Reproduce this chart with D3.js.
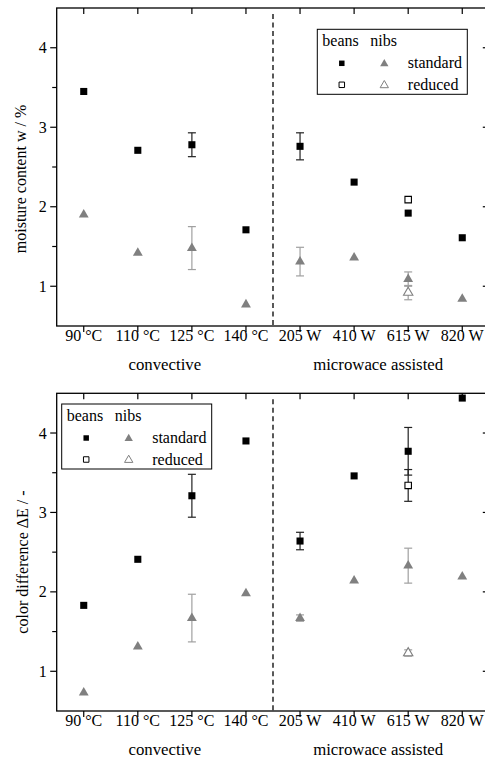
<!DOCTYPE html>
<html>
<head>
<meta charset="utf-8">
<script src="https://cdn.jsdelivr.net/npm/d3@7"></script>
<style>
  body { margin: 0; background: #fff; }
  svg text { font-family: "Liberation Serif", "Times New Roman", serif; font-size: 16px; fill: #000; }
  svg text.group { font-size: 16.8px; }
</style>
</head>
<body>
<div id="chart"></div>
<script>
//////////////////  data  /////////////////////////

const categories = ["90 °C", "110 °C", "125 °C", "140 °C", "205 W", "410 W", "615 W", "820 W"]
const groupLabels = ["convective", "microwace assisted"]
const yTicks = [1, 1.5, 2, 2.5, 3, 3.5, 4]

// moisture content w / %
const moistureBeansStd    = [3.45, 2.71, 2.78, 1.71, 2.76, 2.31, 1.92, 1.61]
const moistureBeansStdErr = [0, 0, 0.15, 0, 0.17, 0, 0, 0]
const moistureNibsStd     = [1.90, 1.42, 1.48, 0.77, 1.31, 1.36, 1.09, 0.84]
const moistureNibsStdErr  = [0, 0, 0.27, 0, 0.18, 0, 0.09, 0]
const moistureBeansRed    = [{ cat: "615 W", v: 2.09, err: 0 }]
const moistureNibsRed     = [{ cat: "615 W", v: 0.92, err: 0.09 }]

// color difference dE / -
const colorBeansStd    = [1.83, 2.41, 3.21, 3.90, 2.64, 3.46, 3.77, 4.44]
const colorBeansStdErr = [0, 0, 0.27, 0, 0.11, 0, 0.30, 0]
const colorNibsStd     = [0.73, 1.31, 1.67, 1.98, 1.67, 2.14, 2.33, 2.19]
const colorNibsStdErr  = [0, 0, 0.30, 0, 0.04, 0, 0.22, 0]
const colorBeansRed    = [{ cat: "615 W", v: 3.34, err: 0.20 }]
const colorNibsRed     = [{ cat: "615 W", v: 1.23, err: 0.04 }]

//////////////////  setup  /////////////////////////

const W = 485, H = 769
const left = 56.7, right = 489.3
const beansColor = "#000", nibsColor = "#808080"
const beansErrColor = "#222", nibsErrColor = "#a0a0a0"

const svg = d3.select("#chart").append("svg")
  .attr("width", W).attr("height", H)

const x = d3.scalePoint().domain(categories).range([left, right]).padding(0.5)

const zip = (vals, errs) => categories.map((c, i) => ({ cat: c, v: vals[i], err: errs[i] }))

function drawPanel(spec) {
  const y = d3.scaleLinear().domain([0.5, 4.5]).range([spec.bottom, spec.top])
  const g = svg.append("g")

  // frame
  g.append("rect")
    .attr("x", left).attr("y", spec.top)
    .attr("width", right - left).attr("height", spec.bottom - spec.top)
    .attr("fill", "none").attr("stroke", "#000").attr("stroke-width", 1.3)

  // left axis, outward ticks (minor ones shorter)
  g.selectAll(".ytick").data(yTicks).join("line")
    .attr("x1", d => left - (Number.isInteger(d) ? 6.5 : 4.5)).attr("x2", left)
    .attr("y1", d => y(d)).attr("y2", d => y(d))
    .attr("stroke", "#000").attr("stroke-width", 1.2)
  g.selectAll(".ylab").data(yTicks.filter(Number.isInteger)).join("text")
    .attr("x", left - 10).attr("y", d => y(d) + 5.5)
    .attr("text-anchor", "end")
    .text(d => d)

  // right axis, inward ticks
  g.selectAll(".rtick").data(yTicks.filter(Number.isInteger)).join("line")
    .attr("x1", right - 6.5).attr("x2", right)
    .attr("y1", d => y(d)).attr("y2", d => y(d))
    .attr("stroke", "#000").attr("stroke-width", 1.2)

  // top ticks inward, bottom ticks outward
  g.selectAll(".ttick").data(categories).join("line")
    .attr("x1", d => x(d)).attr("x2", d => x(d))
    .attr("y1", spec.top).attr("y2", spec.top + 6)
    .attr("stroke", "#000").attr("stroke-width", 1.2)
  g.selectAll(".btick").data(categories).join("line")
    .attr("x1", d => x(d)).attr("x2", d => x(d))
    .attr("y1", spec.bottom).attr("y2", spec.bottom + 6)
    .attr("stroke", "#000").attr("stroke-width", 1.2)
  g.selectAll(".xlab").data(categories).join("text")
    .attr("x", d => x(d)).attr("y", spec.bottom + 15)
    .attr("text-anchor", "middle")
    .text(d => d)

  // group labels
  g.append("text").attr("class", "group")
    .attr("x", (x(categories[0]) + x(categories[3])) / 2).attr("y", spec.bottom + 44)
    .attr("text-anchor", "middle").text(groupLabels[0])
  g.append("text").attr("class", "group")
    .attr("x", (x(categories[4]) + x(categories[7])) / 2 - 3).attr("y", spec.bottom + 44)
    .attr("text-anchor", "middle").text(groupLabels[1])

  // y title
  g.append("text")
    .attr("transform", "translate(" + spec.labelX + "," + spec.labelY + ") rotate(-90)")
    .attr("text-anchor", "middle")
    .text(spec.yTitle)

  // dashed divider
  const xd = (x(categories[3]) + x(categories[4])) / 2
  g.append("line")
    .attr("x1", xd).attr("x2", xd)
    .attr("y1", spec.top + 6).attr("y2", spec.bottom)
    .attr("stroke", "#000").attr("stroke-width", 1.3)
    .attr("stroke-dasharray", "5,3.5")

  // series: error bars first, then markers
  spec.series.forEach(s => {
    const pts = s.data.filter(d => d.err > 0)
    const eb = g.append("g").attr("stroke", s.errColor).attr("stroke-width", 1.2)
    eb.selectAll(".v").data(pts).join("line")
      .attr("x1", d => x(d.cat)).attr("x2", d => x(d.cat))
      .attr("y1", d => y(d.v - d.err)).attr("y2", d => y(d.v + d.err))
    eb.selectAll(".c1").data(pts).join("line")
      .attr("x1", d => x(d.cat) - 4).attr("x2", d => x(d.cat) + 4)
      .attr("y1", d => y(d.v + d.err)).attr("y2", d => y(d.v + d.err))
    eb.selectAll(".c2").data(pts).join("line")
      .attr("x1", d => x(d.cat) - 4).attr("x2", d => x(d.cat) + 4)
      .attr("y1", d => y(d.v - d.err)).attr("y2", d => y(d.v - d.err))

    g.append("g").selectAll("path").data(s.data).join("path")
      .attr("d", d3.symbol().type(s.shape).size(s.size))
      .attr("transform", d => "translate(" + x(d.cat) + "," + y(d.v) + ")")
      .attr("fill", s.open ? "#fff" : s.color)
      .attr("stroke", s.color)
      .attr("stroke-width", s.open ? 1.1 : 0)
  })

  drawLegend(g, spec.legendX, spec.legendY)
}

function drawLegend(g, lx, ly) {
  const lg = g.append("g").attr("transform", "translate(" + lx + "," + ly + ")")
  lg.append("rect")
    .attr("width", 150).attr("height", 65)
    .attr("fill", "#fff").attr("stroke", "#000").attr("stroke-width", 1)
  lg.append("text").attr("x", 5).attr("y", 17).text("beans")
  lg.append("text").attr("x", 53).attr("y", 17).text("nibs")
  const rows = [{ name: "standard", open: false, dy: 34 }, { name: "reduced", open: true, dy: 55.5 }]
  rows.forEach(r => {
    lg.append("path")
      .attr("d", d3.symbol().type(d3.symbolSquare).size(30))
      .attr("transform", "translate(24.5," + r.dy + ")")
      .attr("fill", r.open ? "#fff" : beansColor)
      .attr("stroke", beansColor).attr("stroke-width", r.open ? 1 : 0)
    lg.append("path")
      .attr("d", d3.symbol().type(d3.symbolTriangle).size(30))
      .attr("transform", "translate(67," + (r.dy + 0.5) + ")")
      .attr("fill", r.open ? "#fff" : nibsColor)
      .attr("stroke", nibsColor).attr("stroke-width", r.open ? 1 : 0)
    lg.append("text").attr("x", 90.5).attr("y", r.dy + 5).text(r.name)
  })
}

//////////////////  panels  /////////////////////////

drawPanel({
  top: 8, bottom: 326,
  yTitle: "moisture content w / %", labelX: 26, labelY: 179,
  legendX: 317.3, legendY: 29.3,
  series: [
    { data: zip(moistureBeansStd, moistureBeansStdErr), shape: d3.symbolSquare, size: 50, color: beansColor, errColor: beansErrColor },
    { data: moistureBeansRed, shape: d3.symbolSquare, size: 42, color: beansColor, errColor: beansErrColor, open: true },
    { data: zip(moistureNibsStd, moistureNibsStdErr), shape: d3.symbolTriangle, size: 42, color: nibsColor, errColor: nibsErrColor },
    { data: moistureNibsRed, shape: d3.symbolTriangle, size: 38, color: nibsColor, errColor: nibsErrColor, open: true }
  ]
})

drawPanel({
  top: 393.3, bottom: 711,
  yTitle: "color difference \u0394E / -", labelX: 27.5, labelY: 562,
  legendX: 61.7, legendY: 404,
  series: [
    { data: zip(colorBeansStd, colorBeansStdErr), shape: d3.symbolSquare, size: 50, color: beansColor, errColor: beansErrColor },
    { data: colorBeansRed, shape: d3.symbolSquare, size: 42, color: beansColor, errColor: beansErrColor, open: true },
    { data: zip(colorNibsStd, colorNibsStdErr), shape: d3.symbolTriangle, size: 42, color: nibsColor, errColor: nibsErrColor },
    { data: colorNibsRed, shape: d3.symbolTriangle, size: 38, color: nibsColor, errColor: nibsErrColor, open: true }
  ]
})
</script>
</body>
</html>
